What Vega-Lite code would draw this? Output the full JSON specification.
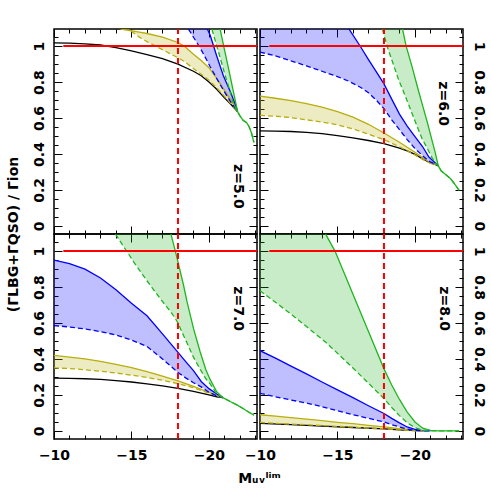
{
  "$schema": "https://vega.github.io/schema/vega-lite/v6.json",
  "padding": {"left": 5, "top": 27, "right": 5, "bottom": 5},
  "config": {
    "view": {"stroke": "black", "strokeWidth": 1.5},
    "axis": {"labelFont": "DejaVu Sans", "labelFontSize": 14, "labelFontWeight": "bold", "labelColor": "black", "tickColor": "black", "tickWidth": 1, "domain": false, "grid": false, "labelOverlap": false, "labelFlush": false, "titleFont": "DejaVu Sans", "titleFontSize": 14, "titleFontWeight": "bold", "titleColor": "black"},
    "text": {"font": "DejaVu Sans", "fontSize": 14, "fontWeight": "bold"}
  },
  "data": {"values": [
    {"z":5,"s":"base","M":-10,"hi":1.018},{"z":5,"s":"base","M":-11,"hi":1.016},{"z":5,"s":"base","M":-12,"hi":1.012},{"z":5,"s":"base","M":-13,"hi":1.006},{"z":5,"s":"base","M":-14,"hi":0.992},{"z":5,"s":"base","M":-15,"hi":0.973},{"z":5,"s":"base","M":-16,"hi":0.952},{"z":5,"s":"base","M":-17,"hi":0.93},{"z":5,"s":"base","M":-18,"hi":0.9},{"z":5,"s":"base","M":-19,"hi":0.86},{"z":5,"s":"base","M":-19.5,"hi":0.835},{"z":5,"s":"base","M":-20,"hi":0.8},{"z":5,"s":"base","M":-20.5,"hi":0.76},{"z":5,"s":"base","M":-21,"hi":0.712},{"z":5,"s":"base","M":-21.5,"hi":0.668},{"z":5,"s":"base","M":-21.85,"hi":0.635},
    {"z":5,"s":"b1","M":-14.3,"hi":1.094,"lo":1.15},{"z":5,"s":"b1","M":-14.8,"hi":1.088,"lo":1.094},{"z":5,"s":"b1","M":-15.5,"hi":1.078,"lo":1.05},{"z":5,"s":"b1","M":-16,"hi":1.07,"lo":1.025},{"z":5,"s":"b1","M":-17,"hi":1.05,"lo":0.98},{"z":5,"s":"b1","M":-18,"hi":1.02,"lo":0.935},{"z":5,"s":"b1","M":-18.4,"hi":1.0,"lo":0.915},{"z":5,"s":"b1","M":-19,"hi":0.955,"lo":0.875},{"z":5,"s":"b1","M":-19.5,"hi":0.92,"lo":0.843},{"z":5,"s":"b1","M":-20,"hi":0.88,"lo":0.81},{"z":5,"s":"b1","M":-20.5,"hi":0.82,"lo":0.768},{"z":5,"s":"b1","M":-21,"hi":0.755,"lo":0.72},{"z":5,"s":"b1","M":-21.5,"hi":0.69,"lo":0.67},{"z":5,"s":"b1","M":-21.85,"hi":0.635,"lo":0.635},
    {"z":5,"s":"b2","M":-18.68,"hi":1.3,"lo":1.094},{"z":5,"s":"b2","M":-19.43,"hi":1.15,"lo":0.99},{"z":5,"s":"b2","M":-19.9,"hi":1.094,"lo":0.915},{"z":5,"s":"b2","M":-20.08,"hi":1.06,"lo":0.885},{"z":5,"s":"b2","M":-20.5,"hi":0.945,"lo":0.82},{"z":5,"s":"b2","M":-20.93,"hi":0.835,"lo":0.755},{"z":5,"s":"b2","M":-21.36,"hi":0.75,"lo":0.695},{"z":5,"s":"b2","M":-21.7,"hi":0.675,"lo":0.655},{"z":5,"s":"b2","M":-21.85,"hi":0.635,"lo":0.635},
    {"z":5,"s":"b3","M":-20.19,"hi":1.4,"lo":1.094},{"z":5,"s":"b3","M":-20.72,"hi":1.094,"lo":0.936},{"z":5,"s":"b3","M":-21.0,"hi":0.98,"lo":0.85},{"z":5,"s":"b3","M":-21.3,"hi":0.86,"lo":0.765},{"z":5,"s":"b3","M":-21.58,"hi":0.745,"lo":0.68},{"z":5,"s":"b3","M":-21.85,"hi":0.635,"lo":0.635},{"z":5,"s":"b3","M":-22.0,"hi":0.612,"lo":0.612},{"z":5,"s":"b3","M":-22.2,"hi":0.588,"lo":0.588},{"z":5,"s":"b3","M":-22.45,"hi":0.573,"lo":0.573},{"z":5,"s":"b3","M":-22.6,"hi":0.55,"lo":0.55},{"z":5,"s":"b3","M":-22.75,"hi":0.515,"lo":0.515},{"z":5,"s":"b3","M":-22.9,"hi":0.465,"lo":0.465},

    {"z":6,"s":"base","M":-10,"hi":0.528},{"z":6,"s":"base","M":-11,"hi":0.527},{"z":6,"s":"base","M":-12,"hi":0.525},{"z":6,"s":"base","M":-13,"hi":0.52},{"z":6,"s":"base","M":-14,"hi":0.513},{"z":6,"s":"base","M":-15,"hi":0.502},{"z":6,"s":"base","M":-16,"hi":0.49},{"z":6,"s":"base","M":-17,"hi":0.475},{"z":6,"s":"base","M":-18,"hi":0.457},{"z":6,"s":"base","M":-19,"hi":0.433},{"z":6,"s":"base","M":-19.5,"hi":0.417},{"z":6,"s":"base","M":-20,"hi":0.398},{"z":6,"s":"base","M":-20.5,"hi":0.372},{"z":6,"s":"base","M":-21,"hi":0.35},{"z":6,"s":"base","M":-21.5,"hi":0.335},
    {"z":6,"s":"b1","M":-10,"hi":0.722,"lo":0.615},{"z":6,"s":"b1","M":-11,"hi":0.71,"lo":0.61},{"z":6,"s":"b1","M":-12,"hi":0.697,"lo":0.602},{"z":6,"s":"b1","M":-13,"hi":0.68,"lo":0.59},{"z":6,"s":"b1","M":-14,"hi":0.66,"lo":0.578},{"z":6,"s":"b1","M":-15,"hi":0.635,"lo":0.562},{"z":6,"s":"b1","M":-16,"hi":0.605,"lo":0.54},{"z":6,"s":"b1","M":-17,"hi":0.565,"lo":0.51},{"z":6,"s":"b1","M":-18,"hi":0.517,"lo":0.48},{"z":6,"s":"b1","M":-19,"hi":0.465,"lo":0.44},{"z":6,"s":"b1","M":-20,"hi":0.41,"lo":0.395},{"z":6,"s":"b1","M":-20.5,"hi":0.38,"lo":0.37},{"z":6,"s":"b1","M":-21,"hi":0.35,"lo":0.348},{"z":6,"s":"b1","M":-21.5,"hi":0.335,"lo":0.335},
    {"z":6,"s":"b2","M":-10,"hi":1.3,"lo":0.967},{"z":6,"s":"b2","M":-11,"hi":1.3,"lo":0.945},{"z":6,"s":"b2","M":-12,"hi":1.3,"lo":0.918},{"z":6,"s":"b2","M":-13,"hi":1.3,"lo":0.89},{"z":6,"s":"b2","M":-14,"hi":1.3,"lo":0.86},{"z":6,"s":"b2","M":-15,"hi":1.25,"lo":0.83},{"z":6,"s":"b2","M":-15.75,"hi":1.094,"lo":0.804},{"z":6,"s":"b2","M":-16.5,"hi":0.995,"lo":0.77},{"z":6,"s":"b2","M":-17,"hi":0.925,"lo":0.74},{"z":6,"s":"b2","M":-17.5,"hi":0.858,"lo":0.7},{"z":6,"s":"b2","M":-18,"hi":0.79,"lo":0.652},{"z":6,"s":"b2","M":-18.5,"hi":0.705,"lo":0.59},{"z":6,"s":"b2","M":-19,"hi":0.622,"lo":0.535},{"z":6,"s":"b2","M":-19.5,"hi":0.555,"lo":0.48},{"z":6,"s":"b2","M":-20,"hi":0.497,"lo":0.43},{"z":6,"s":"b2","M":-20.5,"hi":0.44,"lo":0.39},{"z":6,"s":"b2","M":-20.9,"hi":0.383,"lo":0.36},{"z":6,"s":"b2","M":-21.5,"hi":0.335,"lo":0.335},
    {"z":6,"s":"b3","M":-17.9,"hi":1.5,"lo":1.094},{"z":6,"s":"b3","M":-18.2,"hi":1.4,"lo":1.0},{"z":6,"s":"b3","M":-18.96,"hi":1.15,"lo":0.809},{"z":6,"s":"b3","M":-19.2,"hi":1.094,"lo":0.76},{"z":6,"s":"b3","M":-19.43,"hi":1.0,"lo":0.71},{"z":6,"s":"b3","M":-19.82,"hi":0.883,"lo":0.624},{"z":6,"s":"b3","M":-20.2,"hi":0.76,"lo":0.54},{"z":6,"s":"b3","M":-20.46,"hi":0.68,"lo":0.485},{"z":6,"s":"b3","M":-20.8,"hi":0.575,"lo":0.43},{"z":6,"s":"b3","M":-21.1,"hi":0.476,"lo":0.38},{"z":6,"s":"b3","M":-21.3,"hi":0.41,"lo":0.35},{"z":6,"s":"b3","M":-21.5,"hi":0.335,"lo":0.335},{"z":6,"s":"b3","M":-21.7,"hi":0.305,"lo":0.305},{"z":6,"s":"b3","M":-22.0,"hi":0.285,"lo":0.285},{"z":6,"s":"b3","M":-22.3,"hi":0.262,"lo":0.262},{"z":6,"s":"b3","M":-22.6,"hi":0.228,"lo":0.228},{"z":6,"s":"b3","M":-22.85,"hi":0.198,"lo":0.198},

    {"z":7,"s":"base","M":-10,"hi":0.293},{"z":7,"s":"base","M":-11,"hi":0.292},{"z":7,"s":"base","M":-12,"hi":0.29},{"z":7,"s":"base","M":-13,"hi":0.287},{"z":7,"s":"base","M":-14,"hi":0.28},{"z":7,"s":"base","M":-15,"hi":0.272},{"z":7,"s":"base","M":-16,"hi":0.262},{"z":7,"s":"base","M":-17,"hi":0.25},{"z":7,"s":"base","M":-18,"hi":0.237},{"z":7,"s":"base","M":-19,"hi":0.22},{"z":7,"s":"base","M":-20,"hi":0.2},{"z":7,"s":"base","M":-20.5,"hi":0.19},{"z":7,"s":"base","M":-20.9,"hi":0.185},
    {"z":7,"s":"b1","M":-10,"hi":0.42,"lo":0.35},{"z":7,"s":"b1","M":-11,"hi":0.41,"lo":0.347},{"z":7,"s":"b1","M":-12,"hi":0.4,"lo":0.34},{"z":7,"s":"b1","M":-13,"hi":0.387,"lo":0.332},{"z":7,"s":"b1","M":-14,"hi":0.37,"lo":0.322},{"z":7,"s":"b1","M":-15,"hi":0.352,"lo":0.31},{"z":7,"s":"b1","M":-16,"hi":0.33,"lo":0.297},{"z":7,"s":"b1","M":-17,"hi":0.305,"lo":0.282},{"z":7,"s":"b1","M":-18,"hi":0.278,"lo":0.263},{"z":7,"s":"b1","M":-19,"hi":0.248,"lo":0.24},{"z":7,"s":"b1","M":-20,"hi":0.215,"lo":0.21},{"z":7,"s":"b1","M":-20.5,"hi":0.198,"lo":0.195},{"z":7,"s":"b1","M":-20.9,"hi":0.185,"lo":0.185},
    {"z":7,"s":"b2","M":-10,"hi":0.95,"lo":0.586},{"z":7,"s":"b2","M":-11,"hi":0.93,"lo":0.578},{"z":7,"s":"b2","M":-12,"hi":0.9,"lo":0.567},{"z":7,"s":"b2","M":-13,"hi":0.85,"lo":0.552},{"z":7,"s":"b2","M":-14,"hi":0.785,"lo":0.534},{"z":7,"s":"b2","M":-15,"hi":0.71,"lo":0.505},{"z":7,"s":"b2","M":-16,"hi":0.64,"lo":0.47},{"z":7,"s":"b2","M":-17,"hi":0.54,"lo":0.4},{"z":7,"s":"b2","M":-18,"hi":0.437,"lo":0.325},{"z":7,"s":"b2","M":-18.5,"hi":0.385,"lo":0.295},{"z":7,"s":"b2","M":-19,"hi":0.335,"lo":0.268},{"z":7,"s":"b2","M":-19.5,"hi":0.275,"lo":0.245},{"z":7,"s":"b2","M":-20,"hi":0.235,"lo":0.215},{"z":7,"s":"b2","M":-20.5,"hi":0.205,"lo":0.195},{"z":7,"s":"b2","M":-20.9,"hi":0.185,"lo":0.185},
    {"z":7,"s":"b3","M":-13.97,"hi":1.9,"lo":1.094},{"z":7,"s":"b3","M":-15.14,"hi":1.6,"lo":0.94},{"z":7,"s":"b3","M":-16,"hi":1.4,"lo":0.835},{"z":7,"s":"b3","M":-16.86,"hi":1.25,"lo":0.735},{"z":7,"s":"b3","M":-17.55,"hi":1.094,"lo":0.66},{"z":7,"s":"b3","M":-17.83,"hi":1.0,"lo":0.625},{"z":7,"s":"b3","M":-18,"hi":0.94,"lo":0.6},{"z":7,"s":"b3","M":-18.36,"hi":0.81,"lo":0.53},{"z":7,"s":"b3","M":-18.58,"hi":0.72,"lo":0.49},{"z":7,"s":"b3","M":-19,"hi":0.57,"lo":0.41},{"z":7,"s":"b3","M":-19.43,"hi":0.44,"lo":0.343},{"z":7,"s":"b3","M":-19.8,"hi":0.34,"lo":0.29},{"z":7,"s":"b3","M":-20.08,"hi":0.285,"lo":0.262},{"z":7,"s":"b3","M":-20.5,"hi":0.218,"lo":0.205},{"z":7,"s":"b3","M":-20.9,"hi":0.185,"lo":0.185},{"z":7,"s":"b3","M":-21.4,"hi":0.162,"lo":0.162},{"z":7,"s":"b3","M":-21.8,"hi":0.145,"lo":0.145},{"z":7,"s":"b3","M":-22.2,"hi":0.125,"lo":0.125},{"z":7,"s":"b3","M":-22.5,"hi":0.108,"lo":0.108},{"z":7,"s":"b3","M":-22.9,"hi":0.088,"lo":0.088},

    {"z":8,"s":"base","M":-10,"hi":0.042},{"z":8,"s":"base","M":-12,"hi":0.035},{"z":8,"s":"base","M":-14,"hi":0.027},{"z":8,"s":"base","M":-16,"hi":0.019},{"z":8,"s":"base","M":-18,"hi":0.011},{"z":8,"s":"base","M":-19,"hi":0.006},{"z":8,"s":"base","M":-20,"hi":0.002},{"z":8,"s":"base","M":-20.5,"hi":0},
    {"z":8,"s":"b1","M":-10,"hi":0.09,"lo":0.047},{"z":8,"s":"b1","M":-11,"hi":0.082,"lo":0.042},{"z":8,"s":"b1","M":-12,"hi":0.074,"lo":0.038},{"z":8,"s":"b1","M":-13,"hi":0.065,"lo":0.034},{"z":8,"s":"b1","M":-14,"hi":0.057,"lo":0.03},{"z":8,"s":"b1","M":-15,"hi":0.048,"lo":0.025},{"z":8,"s":"b1","M":-16,"hi":0.04,"lo":0.021},{"z":8,"s":"b1","M":-17,"hi":0.031,"lo":0.016},{"z":8,"s":"b1","M":-18,"hi":0.022,"lo":0.012},{"z":8,"s":"b1","M":-19,"hi":0.012,"lo":0.006},{"z":8,"s":"b1","M":-20,"hi":0.004,"lo":0.002},{"z":8,"s":"b1","M":-20.5,"hi":0,"lo":0},
    {"z":8,"s":"b2","M":-10,"hi":0.446,"lo":0.209},{"z":8,"s":"b2","M":-11,"hi":0.405,"lo":0.19},{"z":8,"s":"b2","M":-12,"hi":0.36,"lo":0.172},{"z":8,"s":"b2","M":-13,"hi":0.317,"lo":0.155},{"z":8,"s":"b2","M":-14,"hi":0.272,"lo":0.135},{"z":8,"s":"b2","M":-15,"hi":0.228,"lo":0.112},{"z":8,"s":"b2","M":-16,"hi":0.185,"lo":0.09},{"z":8,"s":"b2","M":-17,"hi":0.14,"lo":0.07},{"z":8,"s":"b2","M":-18,"hi":0.097,"lo":0.05},{"z":8,"s":"b2","M":-18.5,"hi":0.07,"lo":0.035},{"z":8,"s":"b2","M":-19,"hi":0.045,"lo":0.022},{"z":8,"s":"b2","M":-19.5,"hi":0.022,"lo":0.01},{"z":8,"s":"b2","M":-20,"hi":0.008,"lo":0.004},{"z":8,"s":"b2","M":-20.5,"hi":0.002,"lo":0.001},{"z":8,"s":"b2","M":-21,"hi":0,"lo":0},
    {"z":8,"s":"b3","M":-10,"hi":1.9,"lo":0.78},{"z":8,"s":"b3","M":-11,"hi":1.7,"lo":0.715},{"z":8,"s":"b3","M":-12,"hi":1.55,"lo":0.65},{"z":8,"s":"b3","M":-13,"hi":1.4,"lo":0.58},{"z":8,"s":"b3","M":-14,"hi":1.25,"lo":0.51},{"z":8,"s":"b3","M":-14.24,"hi":1.094,"lo":0.493},{"z":8,"s":"b3","M":-14.84,"hi":1.0,"lo":0.445},{"z":8,"s":"b3","M":-16,"hi":0.76,"lo":0.35},{"z":8,"s":"b3","M":-17,"hi":0.553,"lo":0.265},{"z":8,"s":"b3","M":-18,"hi":0.345,"lo":0.18},{"z":8,"s":"b3","M":-18.5,"hi":0.255,"lo":0.13},{"z":8,"s":"b3","M":-19,"hi":0.175,"lo":0.085},{"z":8,"s":"b3","M":-19.5,"hi":0.105,"lo":0.045},{"z":8,"s":"b3","M":-20,"hi":0.05,"lo":0.018},{"z":8,"s":"b3","M":-20.5,"hi":0.015,"lo":0.004},{"z":8,"s":"b3","M":-21,"hi":0.003,"lo":0},{"z":8,"s":"b3","M":-21.5,"hi":0,"lo":0},{"z":8,"s":"b3","M":-22.85,"hi":0,"lo":0}
  ]},
  "columns": 2,
  "spacing": {"row": 0, "column": 3},
  "bounds": "flush",
  "concat": [
      {"width": 203, "height": 205,
       "transform": [{"filter": "datum.z === 5"}],
       "layer": [
        {"transform": [{"filter": "datum.s !== 'base'"}], "mark": {"type": "area", "clip": true, "fillOpacity": 0.25, "strokeWidth": 0},
         "encoding": {"x": {"field": "M", "type": "quantitative", "axis": null}, "y": {"field": "hi", "type": "quantitative", "stack": null, "axis": null}, "y2": {"field": "lo"}, "color": {"field": "s", "type": "nominal", "legend": null, "scale": {"domain": ["base","b1","b2","b3"], "range": ["#000000","#b8ae0c","#0000ff","#1fb51f"]}}}},
        {"mark": {"type": "line", "clip": true, "strokeWidth": 1.3},
         "encoding": {"x": {"field": "M", "type": "quantitative", "axis": null}, "y": {"field": "hi", "type": "quantitative", "axis": null}, "color": {"field": "s", "type": "nominal", "legend": null}}},
        {"transform": [{"filter": "datum.s !== 'base'"}], "mark": {"type": "line", "clip": true, "strokeWidth": 1.3, "strokeDash": [5, 3]},
         "encoding": {"x": {"field": "M", "type": "quantitative", "axis": null}, "y": {"field": "lo", "type": "quantitative", "axis": null}, "color": {"field": "s", "type": "nominal", "legend": null}}},
        {"data": {"values": [{"ref": "unity"}]}, "mark": {"type": "rule", "color": "#ff0000", "strokeWidth": 2},
         "encoding": {
          "x": {"datum": -10.6, "type": "quantitative", "scale": {"domain": [-10, -23.1], "nice": false, "zero": false}, "axis": {"orient": "bottom", "values": [-10,-11,-12,-13,-14,-15,-16,-17,-18,-19,-20,-21,-22,-23], "tickSize": {"condition": {"test": "datum.value % 5 === 0", "value": -8}, "value": -4}, "labels": false, "title": null}},
          "x2": {"datum": -23.1},
          "y": {"datum": 1, "type": "quantitative", "scale": {"domain": [-0.045, 1.095], "nice": false, "zero": false}, "axis": {"orient": "left", "values": [0,0.05,0.1,0.15,0.2,0.25,0.3,0.35,0.4,0.45,0.5,0.55,0.6,0.65,0.7,0.75,0.8,0.85,0.9,0.95,1,1.05], "tickSize": {"condition": {"test": "abs(datum.value*5 - round(datum.value*5)) < 0.001", "value": -8}, "value": -4}, "labelAngle": -90, "labelPadding": 16, "labelExpr": "abs(datum.value*5 - round(datum.value*5)) < 0.001 ? format(datum.value, '.2~f') : ''", "title": "(ΓLBG+ΓQSO) / Γion", "titleAngle": -90, "titleX": -41, "titleY": 205, "titleAlign": "center", "titleBaseline": "middle"}}}},
        {"data": {"values": [{"ref": "limit"}]}, "mark": {"type": "rule", "color": "#ff0000", "strokeWidth": 2, "strokeDash": [6, 4]},
         "encoding": {
          "x": {"datum": -18, "type": "quantitative", "scale": {"domain": [-10, -23.1], "nice": false, "zero": false}, "axis": {"orient": "top", "values": [-10,-11,-12,-13,-14,-15,-16,-17,-18,-19,-20,-21,-22,-23], "tickSize": {"condition": {"test": "datum.value % 5 === 0", "value": -8}, "value": -4}, "labels": false, "title": null}},
          "y": {"datum": -0.045, "type": "quantitative", "scale": {"domain": [-0.045, 1.095], "nice": false, "zero": false}, "axis": {"orient": "right", "values": [0,0.05,0.1,0.15,0.2,0.25,0.3,0.35,0.4,0.45,0.5,0.55,0.6,0.65,0.7,0.75,0.8,0.85,0.9,0.95,1,1.05], "tickSize": {"condition": {"test": "abs(datum.value*5 - round(datum.value*5)) < 0.001", "value": -8}, "value": -4}, "labels": false, "title": null}},
          "y2": {"datum": 1.095}}},
        {"data": {"values": [{"label": "z=5.0"}]}, "mark": {"type": "text", "angle": 90, "align": "center", "baseline": "middle", "color": "black"},
         "encoding": {"text": {"field": "label"}, "x": {"datum": -21.85, "type": "quantitative", "axis": null}, "y": {"datum": 0.22, "type": "quantitative", "axis": null}}}
       ],
       "resolve": {"axis": {"x": "independent", "y": "independent"}}},
      {"width": 203, "height": 205,
       "transform": [{"filter": "datum.z === 6"}],
       "layer": [
        {"transform": [{"filter": "datum.s !== 'base'"}], "mark": {"type": "area", "clip": true, "fillOpacity": 0.25, "strokeWidth": 0},
         "encoding": {"x": {"field": "M", "type": "quantitative", "axis": null}, "y": {"field": "hi", "type": "quantitative", "stack": null, "axis": null}, "y2": {"field": "lo"}, "color": {"field": "s", "type": "nominal", "legend": null, "scale": {"domain": ["base","b1","b2","b3"], "range": ["#000000","#b8ae0c","#0000ff","#1fb51f"]}}}},
        {"mark": {"type": "line", "clip": true, "strokeWidth": 1.3},
         "encoding": {"x": {"field": "M", "type": "quantitative", "axis": null}, "y": {"field": "hi", "type": "quantitative", "axis": null}, "color": {"field": "s", "type": "nominal", "legend": null}}},
        {"transform": [{"filter": "datum.s !== 'base'"}], "mark": {"type": "line", "clip": true, "strokeWidth": 1.3, "strokeDash": [5, 3]},
         "encoding": {"x": {"field": "M", "type": "quantitative", "axis": null}, "y": {"field": "lo", "type": "quantitative", "axis": null}, "color": {"field": "s", "type": "nominal", "legend": null}}},
        {"data": {"values": [{"ref": "unity"}]}, "mark": {"type": "rule", "color": "#ff0000", "strokeWidth": 2},
         "encoding": {
          "x": {"datum": -10.6, "type": "quantitative", "scale": {"domain": [-10, -23.1], "nice": false, "zero": false}, "axis": {"orient": "bottom", "values": [-10,-11,-12,-13,-14,-15,-16,-17,-18,-19,-20,-21,-22,-23], "tickSize": {"condition": {"test": "datum.value % 5 === 0", "value": -8}, "value": -4}, "labels": false, "title": null}},
          "x2": {"datum": -23.1},
          "y": {"datum": 1, "type": "quantitative", "scale": {"domain": [-0.045, 1.095], "nice": false, "zero": false}, "axis": {"orient": "left", "values": [0,0.05,0.1,0.15,0.2,0.25,0.3,0.35,0.4,0.45,0.5,0.55,0.6,0.65,0.7,0.75,0.8,0.85,0.9,0.95,1,1.05], "tickSize": {"condition": {"test": "abs(datum.value*5 - round(datum.value*5)) < 0.001", "value": -8}, "value": -4}, "labels": false, "title": null}}}},
        {"data": {"values": [{"ref": "limit"}]}, "mark": {"type": "rule", "color": "#ff0000", "strokeWidth": 2, "strokeDash": [6, 4]},
         "encoding": {
          "x": {"datum": -18, "type": "quantitative", "scale": {"domain": [-10, -23.1], "nice": false, "zero": false}, "axis": {"orient": "top", "values": [-10,-11,-12,-13,-14,-15,-16,-17,-18,-19,-20,-21,-22,-23], "tickSize": {"condition": {"test": "datum.value % 5 === 0", "value": -8}, "value": -4}, "labels": false, "title": null}},
          "y": {"datum": -0.045, "type": "quantitative", "scale": {"domain": [-0.045, 1.095], "nice": false, "zero": false}, "axis": {"orient": "right", "values": [0,0.05,0.1,0.15,0.2,0.25,0.3,0.35,0.4,0.45,0.5,0.55,0.6,0.65,0.7,0.75,0.8,0.85,0.9,0.95,1,1.05], "tickSize": {"condition": {"test": "abs(datum.value*5 - round(datum.value*5)) < 0.001", "value": -8}, "value": -4}, "labelAngle": 90, "labelPadding": 16, "labelExpr": "abs(datum.value*5 - round(datum.value*5)) < 0.001 ? format(datum.value, '.2~f') : ''", "title": null}},
          "y2": {"datum": 1.095}}},
        {"data": {"values": [{"label": "z=6.0"}]}, "mark": {"type": "text", "angle": 90, "align": "center", "baseline": "middle", "color": "black"},
         "encoding": {"text": {"field": "label"}, "x": {"datum": -21.8, "type": "quantitative", "axis": null}, "y": {"datum": 0.68, "type": "quantitative", "axis": null}}}
       ],
       "resolve": {"axis": {"x": "independent", "y": "independent"}}},
      {"width": 203, "height": 205,
       "transform": [{"filter": "datum.z === 7"}],
       "layer": [
        {"transform": [{"filter": "datum.s !== 'base'"}], "mark": {"type": "area", "clip": true, "fillOpacity": 0.25, "strokeWidth": 0},
         "encoding": {"x": {"field": "M", "type": "quantitative", "axis": null}, "y": {"field": "hi", "type": "quantitative", "stack": null, "axis": null}, "y2": {"field": "lo"}, "color": {"field": "s", "type": "nominal", "legend": null, "scale": {"domain": ["base","b1","b2","b3"], "range": ["#000000","#b8ae0c","#0000ff","#1fb51f"]}}}},
        {"mark": {"type": "line", "clip": true, "strokeWidth": 1.3},
         "encoding": {"x": {"field": "M", "type": "quantitative", "axis": null}, "y": {"field": "hi", "type": "quantitative", "axis": null}, "color": {"field": "s", "type": "nominal", "legend": null}}},
        {"transform": [{"filter": "datum.s !== 'base'"}], "mark": {"type": "line", "clip": true, "strokeWidth": 1.3, "strokeDash": [5, 3]},
         "encoding": {"x": {"field": "M", "type": "quantitative", "axis": null}, "y": {"field": "lo", "type": "quantitative", "axis": null}, "color": {"field": "s", "type": "nominal", "legend": null}}},
        {"data": {"values": [{"ref": "unity"}]}, "mark": {"type": "rule", "color": "#ff0000", "strokeWidth": 2},
         "encoding": {
          "x": {"datum": -10.6, "type": "quantitative", "scale": {"domain": [-10, -23.1], "nice": false, "zero": false}, "axis": {"orient": "bottom", "values": [-10,-11,-12,-13,-14,-15,-16,-17,-18,-19,-20,-21,-22,-23], "tickSize": {"condition": {"test": "datum.value % 5 === 0", "value": -8}, "value": -4}, "labelPadding": 17, "labelExpr": "datum.value % 5 === 0 ? datum.label : ''", "title": "Mᵤᵥˡⁱᵐ", "titleX": 205, "titleY": 39, "titleAlign": "center", "titleBaseline": "middle"}},
          "x2": {"datum": -23.1},
          "y": {"datum": 1, "type": "quantitative", "scale": {"domain": [-0.045, 1.095], "nice": false, "zero": false}, "axis": {"orient": "left", "values": [0,0.05,0.1,0.15,0.2,0.25,0.3,0.35,0.4,0.45,0.5,0.55,0.6,0.65,0.7,0.75,0.8,0.85,0.9,0.95,1,1.05], "tickSize": {"condition": {"test": "abs(datum.value*5 - round(datum.value*5)) < 0.001", "value": -8}, "value": -4}, "labelAngle": -90, "labelPadding": 16, "labelExpr": "abs(datum.value*5 - round(datum.value*5)) < 0.001 ? format(datum.value, '.2~f') : ''", "title": null}}}},
        {"data": {"values": [{"ref": "limit"}]}, "mark": {"type": "rule", "color": "#ff0000", "strokeWidth": 2, "strokeDash": [6, 4]},
         "encoding": {
          "x": {"datum": -18, "type": "quantitative", "scale": {"domain": [-10, -23.1], "nice": false, "zero": false}, "axis": {"orient": "top", "values": [-10,-11,-12,-13,-14,-15,-16,-17,-18,-19,-20,-21,-22,-23], "tickSize": {"condition": {"test": "datum.value % 5 === 0", "value": -8}, "value": -4}, "labels": false, "title": null}},
          "y": {"datum": -0.045, "type": "quantitative", "scale": {"domain": [-0.045, 1.095], "nice": false, "zero": false}, "axis": {"orient": "right", "values": [0,0.05,0.1,0.15,0.2,0.25,0.3,0.35,0.4,0.45,0.5,0.55,0.6,0.65,0.7,0.75,0.8,0.85,0.9,0.95,1,1.05], "tickSize": {"condition": {"test": "abs(datum.value*5 - round(datum.value*5)) < 0.001", "value": -8}, "value": -4}, "labels": false, "title": null}},
          "y2": {"datum": 1.095}}},
        {"data": {"values": [{"label": "z=7.0"}]}, "mark": {"type": "text", "angle": 90, "align": "center", "baseline": "middle", "color": "black"},
         "encoding": {"text": {"field": "label"}, "x": {"datum": -21.85, "type": "quantitative", "axis": null}, "y": {"datum": 0.68, "type": "quantitative", "axis": null}}}
       ],
       "resolve": {"axis": {"x": "independent", "y": "independent"}}},
      {"width": 203, "height": 205,
       "transform": [{"filter": "datum.z === 8"}],
       "layer": [
        {"transform": [{"filter": "datum.s !== 'base'"}], "mark": {"type": "area", "clip": true, "fillOpacity": 0.25, "strokeWidth": 0},
         "encoding": {"x": {"field": "M", "type": "quantitative", "axis": null}, "y": {"field": "hi", "type": "quantitative", "stack": null, "axis": null}, "y2": {"field": "lo"}, "color": {"field": "s", "type": "nominal", "legend": null, "scale": {"domain": ["base","b1","b2","b3"], "range": ["#000000","#b8ae0c","#0000ff","#1fb51f"]}}}},
        {"mark": {"type": "line", "clip": true, "strokeWidth": 1.3},
         "encoding": {"x": {"field": "M", "type": "quantitative", "axis": null}, "y": {"field": "hi", "type": "quantitative", "axis": null}, "color": {"field": "s", "type": "nominal", "legend": null}}},
        {"transform": [{"filter": "datum.s !== 'base'"}], "mark": {"type": "line", "clip": true, "strokeWidth": 1.3, "strokeDash": [5, 3]},
         "encoding": {"x": {"field": "M", "type": "quantitative", "axis": null}, "y": {"field": "lo", "type": "quantitative", "axis": null}, "color": {"field": "s", "type": "nominal", "legend": null}}},
        {"data": {"values": [{"ref": "unity"}]}, "mark": {"type": "rule", "color": "#ff0000", "strokeWidth": 2},
         "encoding": {
          "x": {"datum": -10.6, "type": "quantitative", "scale": {"domain": [-10, -23.1], "nice": false, "zero": false}, "axis": {"orient": "bottom", "values": [-10,-11,-12,-13,-14,-15,-16,-17,-18,-19,-20,-21,-22,-23], "tickSize": {"condition": {"test": "datum.value % 5 === 0", "value": -8}, "value": -4}, "labelPadding": 17, "labelExpr": "datum.value % 5 === 0 ? datum.label : ''", "title": null}},
          "x2": {"datum": -23.1},
          "y": {"datum": 1, "type": "quantitative", "scale": {"domain": [-0.045, 1.095], "nice": false, "zero": false}, "axis": {"orient": "left", "values": [0,0.05,0.1,0.15,0.2,0.25,0.3,0.35,0.4,0.45,0.5,0.55,0.6,0.65,0.7,0.75,0.8,0.85,0.9,0.95,1,1.05], "tickSize": {"condition": {"test": "abs(datum.value*5 - round(datum.value*5)) < 0.001", "value": -8}, "value": -4}, "labels": false, "title": null}}}},
        {"data": {"values": [{"ref": "limit"}]}, "mark": {"type": "rule", "color": "#ff0000", "strokeWidth": 2, "strokeDash": [6, 4]},
         "encoding": {
          "x": {"datum": -18, "type": "quantitative", "scale": {"domain": [-10, -23.1], "nice": false, "zero": false}, "axis": {"orient": "top", "values": [-10,-11,-12,-13,-14,-15,-16,-17,-18,-19,-20,-21,-22,-23], "tickSize": {"condition": {"test": "datum.value % 5 === 0", "value": -8}, "value": -4}, "labels": false, "title": null}},
          "y": {"datum": -0.045, "type": "quantitative", "scale": {"domain": [-0.045, 1.095], "nice": false, "zero": false}, "axis": {"orient": "right", "values": [0,0.05,0.1,0.15,0.2,0.25,0.3,0.35,0.4,0.45,0.5,0.55,0.6,0.65,0.7,0.75,0.8,0.85,0.9,0.95,1,1.05], "tickSize": {"condition": {"test": "abs(datum.value*5 - round(datum.value*5)) < 0.001", "value": -8}, "value": -4}, "labelAngle": 90, "labelPadding": 16, "labelExpr": "abs(datum.value*5 - round(datum.value*5)) < 0.001 ? format(datum.value, '.2~f') : ''", "title": null}},
          "y2": {"datum": 1.095}}},
        {"data": {"values": [{"label": "z=8.0"}]}, "mark": {"type": "text", "angle": 90, "align": "center", "baseline": "middle", "color": "black"},
         "encoding": {"text": {"field": "label"}, "x": {"datum": -21.85, "type": "quantitative", "axis": null}, "y": {"datum": 0.68, "type": "quantitative", "axis": null}}}
       ],
       "resolve": {"axis": {"x": "independent", "y": "independent"}}}
  ]
}
